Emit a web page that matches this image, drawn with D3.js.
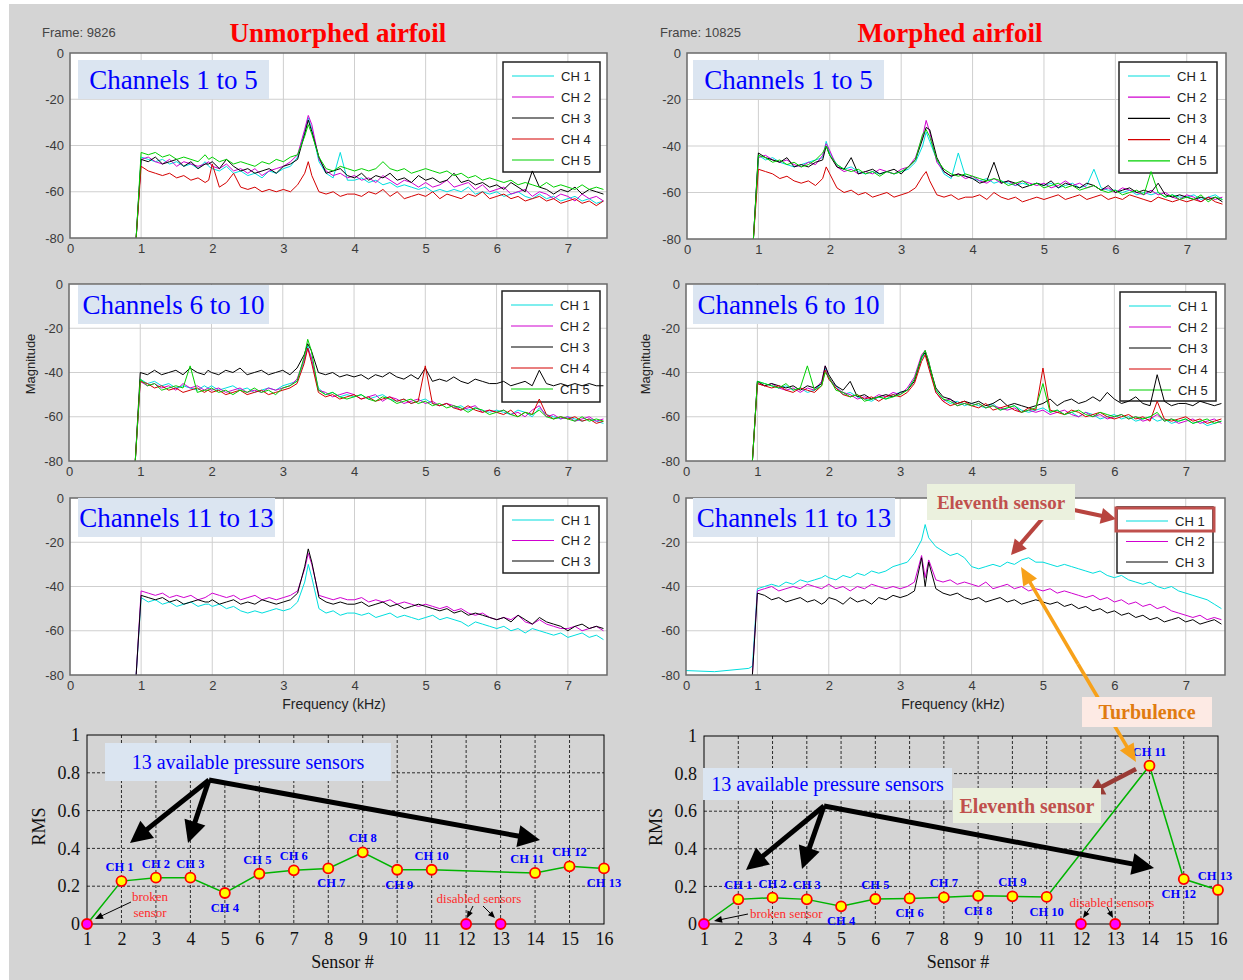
<!DOCTYPE html>
<html>
<head>
<meta charset="utf-8">
<script src="https://cdn.jsdelivr.net/npm/d3@7"></script>
<style>
  body { margin: 0; background: #fff; }
  svg { display: block; }
</style>
</head>
<body>
<svg id="chart" width="1243" height="980"></svg>
<script>
// frequency grid (kHz) shared by every spectrum
const freq = [0.93, 1.0, 1.1, 1.2, 1.3, 1.4, 1.5, 1.6, 1.7, 1.8, 1.9,
  1.95, 2.0, 2.1, 2.2, 2.3, 2.4, 2.5, 2.6, 2.7, 2.8, 2.9, 3.0, 3.1, 3.2,
  3.3, 3.35, 3.4, 3.5, 3.6, 3.7, 3.8, 3.9,
  4.0, 4.1, 4.2, 4.3, 4.4, 4.5, 4.6, 4.7, 4.8, 4.9,
  5.0, 5.1, 5.2, 5.3, 5.4, 5.5, 5.6, 5.7, 5.8, 5.9,
  6.0, 6.1, 6.2, 6.3, 6.4, 6.5, 6.6, 6.7, 6.8, 6.9,
  7.0, 7.1, 7.2, 7.3, 7.4, 7.5];

const xTicks = [0, 1, 2, 3, 4, 5, 6, 7];
const yTicks = [0, -20, -40, -60, -80];
const chNames5 = ["CH 1", "CH 2", "CH 3", "CH 4", "CH 5"];
const chNames3 = ["CH 1", "CH 2", "CH 3"];

// unmorphed, channels 1 to 5 (dB)
const uTop1 = [-80,-45,-46,-47,-46,-48,-47,-49,-48,-50,-47,
  -49,-50,-51,-49,-52,-51,-53,-52,-54,-51,-52,-50,-49,-45,
  -34,-28,-33,-47,-52,-54,-43,-55,
  -55,-54,-56,-55,-57,-56,-58,-57,-58,-59,
  -58,-60,-59,-60,-59,-60,-58,-61,-60,-61,
  -60,-62,-61,-60,-62,-63,-61,-63,-62,-64,
  -63,-62,-64,-63,-65,-64];
const uTop2 = [-80,-46,-45,-47,-48,-46,-49,-47,-48,-49,-48,
  -47,-49,-50,-48,-51,-50,-52,-50,-53,-51,-50,-49,-47,-44,
  -33,-27,-31,-46,-51,-53,-52,-54,
  -53,-55,-54,-56,-53,-55,-57,-55,-56,-58,
  -56,-58,-57,-55,-58,-57,-56,-59,-57,-60,
  -59,-58,-61,-60,-59,-62,-60,-61,-63,-61,
  -62,-64,-61,-63,-62,-64];
const uTop3 = [-80,-46,-47,-45,-48,-47,-46,-49,-47,-50,-48,
  -48,-47,-50,-46,-49,-51,-50,-52,-51,-50,-52,-49,-48,-46,
  -35,-29,-34,-45,-52,-51,-50,-53,
  -54,-52,-55,-53,-54,-52,-55,-54,-56,-53,
  -55,-54,-56,-55,-52,-56,-55,-57,-56,-58,
  -57,-59,-56,-58,-60,-51,-58,-59,-61,-59,
  -60,-58,-61,-59,-60,-61];
const uTop4 = [-80,-49,-51,-52,-53,-52,-54,-53,-55,-54,-56,
  -55,-48,-58,-56,-52,-58,-59,-58,-60,-59,-60,-59,-60,-57,
  -52,-47,-53,-60,-61,-60,-62,-61,
  -61,-62,-60,-61,-59,-62,-60,-63,-62,-61,
  -62,-60,-63,-61,-62,-63,-61,-62,-60,-63,
  -62,-61,-63,-62,-64,-63,-62,-64,-63,-65,
  -64,-63,-65,-64,-66,-64];
const uTop5 = [-80,-43,-44,-43,-45,-44,-46,-45,-46,-47,-44,
  -46,-45,-47,-46,-48,-47,-48,-49,-47,-48,-46,-47,-45,-44,
  -36,-31,-35,-45,-50,-51,-49,-50,
  -51,-50,-51,-50,-47,-50,-51,-50,-52,-51,
  -50,-51,-52,-51,-53,-52,-54,-53,-55,-54,
  -55,-56,-55,-57,-56,-57,-58,-56,-58,-57,
  -58,-59,-57,-59,-58,-59];

// unmorphed, channels 6 to 10
const uMid1 = [-80,-43,-45,-44,-46,-45,-47,-46,-47,-48,-46,
  -47,-46,-48,-47,-46,-48,-47,-49,-48,-47,-48,-46,-45,-44,
  -35,-28,-34,-47,-50,-49,-51,-50,
  -51,-50,-52,-51,-50,-52,-53,-52,-54,-53,
  -52,-54,-55,-54,-56,-55,-57,-56,-57,-58,
  -57,-58,-59,-57,-58,-60,-56,-59,-60,-61,
  -60,-61,-62,-61,-62,-63];
const uMid2 = [-80,-44,-46,-45,-47,-46,-48,-45,-47,-46,-48,
  -47,-48,-47,-49,-48,-47,-49,-48,-49,-47,-48,-47,-46,-43,
  -34,-29,-33,-48,-49,-51,-50,-49,
  -50,-52,-51,-50,-53,-51,-52,-54,-53,-52,
  -54,-53,-55,-54,-55,-57,-56,-55,-58,-57,
  -58,-57,-59,-58,-60,-57,-55,-60,-59,-61,
  -60,-62,-61,-60,-62,-61];
const uMid3 = [-80,-40,-41,-39,-41,-40,-39,-41,-38,-40,-41,
  -39,-40,-41,-39,-40,-38,-41,-40,-39,-41,-40,-39,-41,-38,
  -32,-27,-30,-40,-41,-40,-42,-41,
  -42,-41,-43,-41,-42,-40,-42,-43,-41,-43,
  -38,-44,-43,-44,-42,-44,-45,-43,-44,-45,
  -45,-44,-46,-45,-44,-46,-39,-45,-46,-45,
  -46,-45,-46,-45,-46,-46];
const uMid4 = [-80,-44,-45,-47,-46,-48,-47,-49,-48,-47,-49,
  -48,-49,-48,-50,-49,-48,-50,-49,-48,-50,-49,-48,-47,-45,
  -36,-29,-35,-49,-51,-50,-52,-51,
  -50,-52,-51,-53,-52,-51,-53,-52,-54,-53,
  -37,-54,-55,-54,-56,-57,-55,-57,-58,-57,
  -58,-59,-57,-60,-58,-59,-52,-59,-61,-60,
  -61,-60,-62,-61,-63,-62];
const uMid5 = [-80,-43,-46,-45,-48,-47,-46,-47,-37,-49,-48,
  -48,-47,-49,-48,-50,-48,-49,-47,-49,-48,-50,-47,-46,-44,
  -33,-25,-30,-48,-50,-49,-51,-52,
  -51,-50,-52,-53,-51,-52,-54,-53,-52,-54,
  -53,-55,-54,-56,-55,-56,-58,-56,-57,-59,
  -58,-57,-59,-60,-58,-59,-57,-60,-61,-60,
  -61,-62,-60,-62,-61,-62];

// unmorphed, channels 11 to 13
const uBot1 = [-80,-45,-47,-46,-48,-47,-49,-48,-47,-49,-48,
  -48,-49,-48,-50,-49,-51,-52,-51,-52,-51,-50,-51,-50,-47,
  -38,-30,-36,-50,-52,-51,-53,-52,
  -52,-53,-52,-54,-53,-52,-54,-53,-54,-55,
  -54,-53,-55,-54,-55,-56,-58,-56,-57,-58,
  -59,-58,-60,-59,-61,-59,-60,-61,-62,-61,
  -63,-62,-61,-63,-62,-64];
const uBot2 = [-80,-42,-43,-44,-43,-45,-44,-45,-44,-46,-45,
  -44,-43,-44,-45,-44,-46,-45,-44,-46,-45,-46,-45,-44,-42,
  -32,-25,-30,-44,-45,-46,-45,-46,
  -46,-45,-47,-46,-47,-46,-48,-47,-48,-49,
  -48,-49,-50,-49,-51,-50,-52,-53,-52,-54,
  -55,-54,-55,-53,-56,-57,-55,-57,-58,-59,
  -59,-58,-60,-59,-58,-60];
const uBot3 = [-80,-44,-45,-46,-45,-47,-46,-48,-47,-46,-47,
  -47,-46,-48,-47,-46,-48,-47,-48,-46,-47,-48,-47,-46,-43,
  -31,-23,-29,-45,-47,-48,-47,-48,
  -48,-47,-49,-48,-47,-49,-48,-50,-49,-48,
  -49,-50,-51,-50,-52,-51,-53,-52,-53,-54,
  -55,-54,-56,-53,-55,-57,-54,-56,-57,-58,
  -60,-58,-57,-59,-58,-59];

// morphed, channels 1 to 5
const mTop1 = [-80,-44,-46,-45,-47,-48,-49,-48,-47,-46,-45,
  -38,-43,-48,-50,-49,-51,-52,-51,-52,-51,-52,-51,-50,-47,
  -40,-34,-38,-46,-52,-54,-43,-53,
  -54,-55,-54,-56,-55,-56,-57,-56,-57,-56,
  -57,-56,-58,-57,-56,-58,-57,-50,-58,-59,
  -59,-60,-59,-61,-60,-61,-60,-62,-61,-62,
  -62,-61,-63,-62,-61,-63];
const mTop2 = [-80,-45,-44,-46,-47,-46,-48,-49,-47,-48,-44,
  -39,-42,-49,-51,-50,-52,-51,-52,-50,-51,-52,-50,-49,-45,
  -36,-29,-34,-47,-51,-53,-52,-54,
  -53,-55,-56,-54,-56,-55,-57,-55,-56,-57,
  -56,-58,-57,-55,-57,-56,-58,-57,-59,-58,
  -60,-58,-59,-60,-61,-59,-61,-60,-62,-63,
  -61,-62,-64,-62,-63,-62];
const mTop3 = [-80,-43,-45,-46,-47,-45,-49,-48,-49,-47,-46,
  -40,-44,-49,-50,-45,-52,-51,-50,-52,-51,-50,-52,-49,-46,
  -37,-32,-33,-45,-51,-53,-52,-53,
  -54,-56,-55,-47,-56,-55,-56,-58,-57,-56,
  -57,-55,-58,-56,-57,-58,-56,-57,-59,-57,
  -60,-59,-58,-60,-59,-60,-56,-61,-62,-61,
  -62,-63,-62,-63,-62,-64];
const mTop4 = [-80,-50,-51,-52,-54,-53,-55,-56,-55,-57,-54,
  -49,-52,-58,-60,-59,-61,-60,-62,-61,-60,-62,-61,-60,-58,
  -53,-51,-55,-61,-62,-61,-63,-62,
  -62,-61,-63,-60,-62,-63,-62,-64,-63,-62,
  -63,-62,-61,-63,-62,-61,-63,-62,-61,-63,
  -62,-63,-61,-62,-63,-64,-62,-63,-64,-63,
  -64,-63,-64,-62,-64,-65];
const mTop5 = [-80,-44,-45,-47,-46,-48,-47,-49,-48,-46,-43,
  -40,-44,-48,-50,-51,-50,-52,-51,-53,-51,-52,-51,-49,-46,
  -35,-33,-36,-46,-50,-52,-53,-52,
  -53,-54,-55,-54,-55,-57,-56,-55,-57,-56,
  -58,-57,-56,-58,-57,-59,-58,-57,-59,-60,
  -59,-61,-60,-59,-61,-51,-60,-62,-61,-63,
  -62,-63,-61,-64,-62,-63];

// morphed, channels 6 to 10
const mMid1 = [-80,-44,-45,-46,-47,-46,-48,-47,-49,-48,-45,
  -38,-43,-46,-50,-49,-51,-52,-53,-51,-52,-50,-49,-48,-43,
  -34,-31,-37,-48,-52,-54,-53,-55,
  -54,-55,-56,-54,-57,-56,-55,-57,-58,-57,
  -56,-58,-57,-59,-58,-60,-58,-59,-61,-60,
  -59,-61,-60,-62,-61,-60,-62,-61,-63,-62,
  -61,-63,-62,-64,-63,-62];
const mMid2 = [-80,-45,-46,-45,-47,-48,-47,-49,-47,-48,-44,
  -37,-42,-47,-49,-50,-52,-51,-52,-50,-51,-49,-50,-47,-42,
  -32,-30,-35,-49,-53,-52,-55,-54,
  -55,-54,-56,-55,-56,-57,-56,-58,-57,-58,
  -57,-59,-58,-57,-59,-60,-58,-60,-59,-61,
  -60,-59,-61,-60,-62,-61,-59,-62,-61,-63,
  -62,-61,-63,-62,-61,-63];
const mMid3 = [-80,-44,-46,-45,-46,-47,-46,-48,-46,-47,-45,
  -37,-41,-46,-48,-44,-51,-50,-52,-51,-50,-51,-49,-48,-44,
  -33,-31,-36,-47,-51,-52,-54,-53,
  -54,-53,-55,-54,-52,-55,-54,-55,-56,-55,
  -54,-52,-55,-53,-52,-54,-53,-51,-53,-49,
  -52,-54,-53,-51,-54,-55,-41,-53,-55,-54,
  -54,-55,-53,-54,-55,-54];
const mMid4 = [-80,-45,-46,-47,-46,-48,-49,-47,-48,-49,-46,
  -39,-43,-47,-50,-51,-50,-52,-51,-53,-51,-50,-51,-49,-45,
  -35,-32,-38,-49,-53,-55,-54,-53,
  -55,-56,-54,-57,-56,-55,-57,-58,-56,-57,
  -38,-57,-58,-59,-57,-58,-60,-59,-58,-60,
  -61,-60,-59,-61,-60,-62,-53,-61,-62,-61,
  -60,-62,-61,-63,-62,-61];
const mMid5 = [-80,-44,-45,-46,-47,-45,-48,-47,-37,-48,-46,
  -40,-42,-48,-49,-51,-50,-53,-52,-51,-52,-51,-50,-48,-43,
  -33,-30,-35,-48,-52,-53,-55,-54,
  -55,-54,-56,-55,-57,-56,-55,-58,-57,-56,
  -45,-58,-57,-59,-58,-57,-59,-60,-58,-59,
  -60,-59,-61,-60,-61,-60,-58,-62,-61,-62,
  -61,-63,-62,-61,-63,-62];

// morphed, channels 11 to 13 (channel 11 also has a low-frequency floor)
const mBot1LeadF = [0, 0.4, 0.88];
const mBot1Lead = [-78, -78.5, -77];
const mBot1 = [-76,-41,-40,-39,-40,-38,-39,-37,-38,-37,-36,
  -35,-36,-37,-35,-36,-34,-35,-33,-34,-33,-31,-30,-29,-25,
  -19,-12,-18,-22,-24,-26,-25,-27,
  -31,-32,-31,-30,-31,-29,-30,-28,-27,-29,
  -29,-30,-31,-30,-31,-32,-33,-34,-33,-35,
  -36,-35,-37,-38,-39,-38,-40,-41,-40,-42,
  -43,-44,-45,-46,-48,-50];
const mBot2 = [-80,-42,-41,-40,-42,-41,-40,-41,-39,-40,-41,
  -40,-39,-41,-40,-42,-40,-41,-39,-40,-41,-40,-41,-40,-38,
  -26,-36,-28,-37,-38,-37,-39,-38,
  -39,-40,-38,-41,-40,-39,-41,-40,-42,-41,
  -42,-41,-43,-42,-43,-44,-45,-44,-46,-45,
  -47,-46,-48,-47,-49,-48,-50,-49,-51,-52,
  -53,-54,-53,-55,-54,-55];
const mBot3 = [-80,-43,-44,-46,-45,-47,-46,-45,-47,-46,-48,
  -47,-45,-46,-48,-45,-47,-46,-48,-45,-46,-44,-45,-44,-42,
  -27,-40,-29,-41,-43,-44,-43,-45,
  -46,-45,-47,-46,-45,-47,-46,-48,-47,-46,
  -47,-48,-47,-49,-48,-50,-49,-51,-50,-52,
  -51,-53,-52,-54,-53,-55,-54,-56,-55,-54,
  -56,-55,-57,-56,-55,-57];

// RMS per sensor position
const sensors = [1, 2, 3, 4, 5, 6, 7, 8, 9, 10, 11, 12, 13, 14, 15, 16];
const rmsUnmorphed = [0, 0.227, 0.245, 0.245, 0.164, 0.266, 0.284, 0.294, 0.379, 0.287, 0.287, 0, 0, 0.27, 0.305, 0.294];
const rmsMorphed = [0, 0.131, 0.14, 0.131, 0.094, 0.133, 0.136, 0.142, 0.15, 0.147, 0.144, 0, 0, 0.842, 0.239, 0.181];
const sensorCh = ["", "CH 1", "CH 2", "CH 3", "CH 4", "CH 5", "CH 6", "CH 7", "CH 8", "CH 9", "CH 10", "", "", "CH 11", "CH 12", "CH 13"];
const deadSensors = [1, 12, 13];
const offLine = [12, 13];
const rmsTicks = [0, 0.2, 0.4, 0.6, 0.8, 1];

const chColor = ["#00dede", "#d000d0", "#000000", "#d40000", "#00d000"];
const sans = "'Liberation Sans', Arial, sans-serif";
const serif = "'Liberation Serif', 'Times New Roman', serif";

let svg = d3.select("#chart");
svg.append("rect").attr("x", 9).attr("y", 4).attr("width", 1234).attr("height", 976).attr("fill", "#d4d4d4");

function arrow(g, x1, y1, x2, y2, color, w, hl, hw) {
  let a = Math.atan2(y2 - y1, x2 - x1), c = Math.cos(a), s = Math.sin(a);
  let bx = x2 - hl * c, by = y2 - hl * s;
  g.append("line").attr("x1", x1).attr("y1", y1).attr("x2", bx + c).attr("y2", by + s)
    .attr("stroke", color).attr("stroke-width", w);
  g.append("path")
    .attr("d", `M${x2},${y2}L${bx - hw * s},${by + hw * c}L${bx + hw * s},${by - hw * c}Z`)
    .attr("fill", color);
}

function textBox(g, x, y, w, h, fill, label, size, color, bold) {
  g.append("rect").attr("x", x).attr("y", y).attr("width", w).attr("height", h).attr("fill", fill);
  g.append("text").attr("x", x + w / 2).attr("y", y + h / 2).attr("dy", "0.35em")
    .attr("text-anchor", "middle").attr("font-family", serif).attr("font-size", size)
    .attr("font-weight", bold ? "bold" : "normal").attr("fill", color).text(label);
}

let clipId = 0;
function spectrum(p) {
  let x = d3.scaleLinear().domain([0, 7.55]).range([p.x0, p.x1]);
  let y = d3.scaleLinear().domain([-80, 0]).range([p.y1, p.y0]);
  let g = svg.append("g");
  g.append("rect").attr("x", p.x0).attr("y", p.y0).attr("width", p.x1 - p.x0).attr("height", p.y1 - p.y0).attr("fill", "#fff");

  // grid
  g.selectAll(null).data(xTicks.slice(1)).join("line")
    .attr("x1", (d) => x(d)).attr("x2", (d) => x(d)).attr("y1", p.y0).attr("y2", p.y1)
    .attr("stroke", "#cfcfcf");
  g.selectAll(null).data(yTicks.slice(1, 4)).join("line")
    .attr("y1", (d) => y(d)).attr("y2", (d) => y(d)).attr("x1", p.x0).attr("x2", p.x1)
    .attr("stroke", "#cfcfcf");

  let ya = g.append("g").attr("transform", `translate(${p.x0},0)`)
    .call(d3.axisLeft(y).tickValues(yTicks).tickSize(0).tickPadding(6).tickFormat((d) => String(d)));
  let xa = g.append("g").attr("transform", `translate(0,${p.y1})`)
    .call(d3.axisBottom(x).tickValues(xTicks).tickSize(0).tickPadding(6).tickFormat((d) => String(d)));
  [ya, xa].forEach((a) => {
    a.select(".domain").remove();
    a.selectAll("text").attr("font-family", sans).attr("font-size", 13).attr("fill", "#3a3a3a");
  });

  // legend (drawn under the traces, as in the original frames)
  let lg = g.append("g");
  lg.append("rect").attr("x", p.lx).attr("y", p.ly).attr("width", p.lw).attr("height", p.lh)
    .attr("fill", "#fff").attr("stroke", "#222").attr("stroke-width", 1.5);
  p.names.forEach((n, i) => {
    let yy = p.ly + 14 + i * p.lstep;
    lg.append("line").attr("x1", p.lx + 9).attr("x2", p.lx + 51).attr("y1", yy).attr("y2", yy)
      .attr("stroke", chColor[i]).attr("stroke-width", 1.2);
    lg.append("text").attr("x", p.lx + 58).attr("y", yy).attr("dy", "0.35em")
      .attr("font-family", sans).attr("font-size", 13).attr("fill", "#222").text(n);
  });

  let id = "clip" + clipId++;
  g.append("clipPath").attr("id", id).append("rect")
    .attr("x", p.x0).attr("y", p.y0).attr("width", p.x1 - p.x0).attr("height", p.y1 - p.y0);
  let line = d3.line().x((d) => x(d[0])).y((d) => y(d[1]));
  let lines = g.append("g").attr("clip-path", `url(#${id})`);
  p.series.forEach((s, i) => {
    let pts = freq.map((f, k) => [f, s[k]]);
    if (p.lead && i === 0) pts = p.lead[0].map((f, k) => [f, p.lead[1][k]]).concat(pts);
    lines.append("path").datum(pts).attr("d", line).attr("fill", "none")
      .attr("stroke", chColor[i]).attr("stroke-width", 1).attr("stroke-linejoin", "round");
  });

  // frame
  g.append("rect").attr("x", p.x0).attr("y", p.y0).attr("width", p.x1 - p.x0).attr("height", p.y1 - p.y0)
    .attr("fill", "none").attr("stroke", "#6a6a6a").attr("stroke-width", 1.5);

  textBox(g, p.bx, p.by, p.bw, 39, "#dbe5f1", p.title, 27, "#0000ff", false);
  return { x: x, y: y };
}

// left column: unmorphed airfoil
spectrum({ x0: 70, x1: 607, y0: 53, y1: 238, series: [uTop1, uTop2, uTop3, uTop4, uTop5], names: chNames5,
  lx: 503, ly: 62, lw: 97, lh: 110, lstep: 21, bx: 78, by: 60, bw: 191, title: "Channels 1 to 5" });
spectrum({ x0: 69, x1: 607, y0: 284, y1: 461, series: [uMid1, uMid2, uMid3, uMid4, uMid5], names: chNames5,
  lx: 502, ly: 291, lw: 98, lh: 111, lstep: 21, bx: 78, by: 285, bw: 191, title: "Channels 6 to 10" });
spectrum({ x0: 70, x1: 607, y0: 498, y1: 675, series: [uBot1, uBot2, uBot3], names: chNames3,
  lx: 503, ly: 506, lw: 96, lh: 67, lstep: 20.5, bx: 78, by: 498, bw: 197, title: "Channels 11 to 13" });

// right column: morphed airfoil
spectrum({ x0: 687, x1: 1226, y0: 53, y1: 239, series: [mTop1, mTop2, mTop3, mTop4, mTop5], names: chNames5,
  lx: 1119, ly: 62, lw: 98, lh: 111, lstep: 21.2, bx: 693, by: 60, bw: 191, title: "Channels 1 to 5" });
spectrum({ x0: 686, x1: 1225, y0: 284, y1: 461, series: [mMid1, mMid2, mMid3, mMid4, mMid5], names: chNames5,
  lx: 1120, ly: 292, lw: 96, lh: 109, lstep: 21, bx: 693, by: 285, bw: 191, title: "Channels 6 to 10" });
spectrum({ x0: 686, x1: 1225, y0: 498, y1: 675, series: [mBot1, mBot2, mBot3], names: chNames3,
  lead: [mBot1LeadF, mBot1Lead],
  lx: 1117, ly: 507, lw: 96, lh: 66, lstep: 20.5, bx: 693, by: 498, bw: 202, title: "Channels 11 to 13" });

// headers and axis titles
let hd = svg.append("g");
[["Frame: 9826", 42], ["Frame: 10825", 660]].forEach((f) => {
  hd.append("text").attr("x", f[1]).attr("y", 32).attr("dy", "0.35em").attr("font-family", sans)
    .attr("font-size", 13).attr("fill", "#444").text(f[0]);
});
[["Unmorphed airfoil", 338], ["Morphed airfoil", 950]].forEach((f) => {
  hd.append("text").attr("x", f[1]).attr("y", 33).attr("dy", "0.35em").attr("text-anchor", "middle")
    .attr("font-family", serif).attr("font-size", 27).attr("font-weight", "bold").attr("fill", "#ff0000").text(f[0]);
});
[30, 645].forEach((xx) => {
  hd.append("text").attr("transform", `translate(${xx},364) rotate(-90)`).attr("dy", "0.35em")
    .attr("text-anchor", "middle").attr("font-family", sans).attr("font-size", 13).attr("fill", "#222").text("Magnitude");
});
[334, 953].forEach((xx) => {
  hd.append("text").attr("x", xx).attr("y", 704).attr("dy", "0.35em").attr("text-anchor", "middle")
    .attr("font-family", sans).attr("font-size", 14).attr("fill", "#222").text("Frequency (kHz)");
});

function rmsChart(p) {
  let x = d3.scaleLinear().domain([1, 16]).range([p.x0, p.x1]);
  let y = d3.scaleLinear().domain([0, 1]).range([p.y1, p.y0]);
  let g = svg.append("g");
  g.selectAll(null).data(sensors.slice(1, 15)).join("line")
    .attr("x1", (d) => x(d)).attr("x2", (d) => x(d)).attr("y1", p.y0).attr("y2", p.y1)
    .attr("stroke", "#000").attr("stroke-width", 0.8).attr("stroke-dasharray", "3,2");
  g.selectAll(null).data(rmsTicks.slice(1, 5)).join("line")
    .attr("y1", (d) => y(d)).attr("y2", (d) => y(d)).attr("x1", p.x0).attr("x2", p.x1)
    .attr("stroke", "#000").attr("stroke-width", 0.8).attr("stroke-dasharray", "3,2");
  g.append("rect").attr("x", p.x0).attr("y", p.y0).attr("width", p.x1 - p.x0).attr("height", p.y1 - p.y0)
    .attr("fill", "none").attr("stroke", "#000").attr("stroke-width", 1);

  let ya = g.append("g").attr("transform", `translate(${p.x0},0)`)
    .call(d3.axisLeft(y).tickValues(rmsTicks).tickSize(0).tickPadding(7).tickFormat((d) => String(d)));
  let xa = g.append("g").attr("transform", `translate(0,${p.y1})`)
    .call(d3.axisBottom(x).tickValues(sensors).tickSize(0).tickPadding(8).tickFormat((d) => String(d)));
  [ya, xa].forEach((a) => {
    a.select(".domain").remove();
    a.selectAll("text").attr("font-family", serif).attr("font-size", 18).attr("fill", "#111");
  });
  g.append("text").attr("transform", `translate(${p.x0 - 48},${(p.y0 + p.y1) / 2 - 3}) rotate(-90)`).attr("dy", "0.35em")
    .attr("text-anchor", "middle").attr("font-family", serif).attr("font-size", 18).attr("fill", "#111").text("RMS");
  g.append("text").attr("x", (p.x0 + p.x1) / 2 - 3).attr("y", 962).attr("dy", "0.35em")
    .attr("text-anchor", "middle").attr("font-family", serif).attr("font-size", 18).attr("fill", "#111").text("Sensor #");

  let pts = sensors.map((s, i) => [s, p.values[i]]);
  g.append("path").datum(pts.filter((d) => !offLine.includes(d[0])))
    .attr("d", d3.line().x((d) => x(d[0])).y((d) => y(d[1])))
    .attr("fill", "none").attr("stroke", "#00b400").attr("stroke-width", 1.5);
  g.selectAll(null).data(pts).join("circle")
    .attr("cx", (d) => x(d[0])).attr("cy", (d) => y(d[1])).attr("r", 5)
    .attr("fill", (d) => (deadSensors.includes(d[0]) ? "#ff00ff" : "#ffff00"))
    .attr("stroke", "#ff0000").attr("stroke-width", 1.8);
  g.selectAll(null).data(pts.filter((d, i) => sensorCh[i])).join("text")
    .attr("x", (d) => x(d[0]) + (p.dx[d[0] - 1] || 0))
    .attr("y", (d) => y(d[1]) + (p.side[d[0] - 1] > 0 ? -10 : 19))
    .attr("text-anchor", "middle").attr("font-family", serif).attr("font-size", 12.5)
    .attr("font-weight", "bold").attr("fill", "#0000ff").text((d) => sensorCh[d[0] - 1]);
  return { g: g, x: x, y: y };
}

let left = rmsChart({ x0: 87, x1: 604, y0: 735, y1: 924, values: rmsUnmorphed,
  side: [0, 1, 1, 1, -1, 1, 1, -1, 1, -1, 1, 0, 0, 1, 1, -1],
  dx: [0, -2, 0, 0, 0, -2, 0, 3, 0, 2, 0, 0, 0, -8, 0, 0] });
let right = rmsChart({ x0: 704, x1: 1218, y0: 736, y1: 924, values: rmsMorphed,
  side: [0, 1, 1, 1, -1, 1, -1, 1, -1, 1, -1, 0, 0, 1, -1, 1],
  dx: [0, 0, 0, 0, 0, 0, 0, 0, 0, 0, 0, 0, 0, 0, -5, -3] });

// annotations on the RMS charts
let an = svg.append("g");
textBox(an, 105, 743, 286, 38, "#dbe5f1", "13 available pressure sensors", 20, "#0000ff", false);
[[130, 843], [188, 843], [540, 840]].forEach((t) => arrow(an, 209, 780, t[0], t[1], "#000", 5, 22, 11));
textBox(an, 703, 768, 249, 32, "#dbe5f1", "13 available pressure sensors", 20, "#0000ff", false);
[[746, 870], [802, 869], [1154, 868]].forEach((t) => arrow(an, 824, 806, t[0], t[1], "#000", 5, 22, 11));

function small(t, xx, yy, anchor) {
  an.append("text").attr("x", xx).attr("y", yy).attr("dy", "0.35em").attr("text-anchor", anchor || "middle")
    .attr("font-family", serif).attr("font-size", 13).attr("fill", "#ff2a2a").text(t);
}
small("broken", 150, 896);
small("sensor", 150, 912);
arrow(an, 131, 902, 95, 919, "#000", 1, 8, 3.5);
small("disabled sensors", 479, 898);
arrow(an, 473, 906, 467, 918, "#000", 1, 7, 3);
arrow(an, 483, 906, 495, 918, "#000", 1, 7, 3);
small("broken sensor", 750, 913, "start");
arrow(an, 748, 914, 714, 921, "#000", 1, 8, 3.5);
small("disabled sensors", 1112, 902);
arrow(an, 1090, 908, 1083, 918, "#000", 1, 7, 3);
arrow(an, 1107, 907, 1113, 918, "#000", 1, 7, 3);

// turbulence arrow links the spectrum bump to the CH 11 RMS point
arrow(an, 1078, 664, 1021, 567, "#f7a11a", 3.5, 18, 8);
arrow(an, 1078, 664, 1136, 762, "#f7a11a", 3.5, 18, 8);
textBox(an, 1082, 697, 130, 30, "#fdeae4", "Turbulence", 20, "#e07b10", true);

// eleventh sensor call-outs
arrow(an, 1136, 769, 1088, 794, "#9a3b36", 4.5, 16, 9);
textBox(an, 953, 788, 148, 35, "#ebf1de", "Eleventh sensor", 20, "#c0504d", true);
arrow(an, 1048, 512, 1011, 555, "#b8443f", 4, 15, 8);
arrow(an, 1074, 510, 1116, 519, "#b8443f", 4, 15, 8);
textBox(an, 927, 484, 148, 36, "#ebf1de", "Eleventh sensor", 19, "#c0504d", true);
an.append("rect").attr("x", 1116).attr("y", 508).attr("width", 98).attr("height", 23)
  .attr("fill", "none").attr("stroke", "#c0504d").attr("stroke-width", 3);
</script>
</body>
</html>
